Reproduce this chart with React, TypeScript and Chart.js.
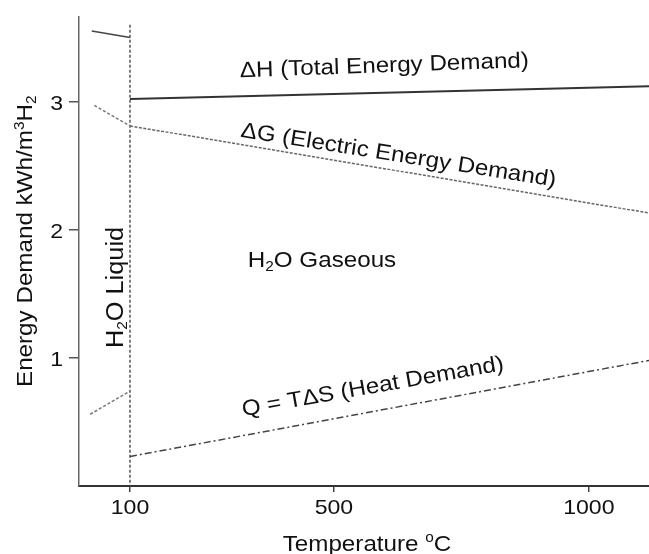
import React, { useEffect, useRef } from "react";
import { Chart, registerables } from "chart.js";

Chart.register(...registerables);

// ---- data ----
const xTickValues = [100, 500, 1000];
const yTickValues = [1, 2, 3];
const xMin = 0;
const xMax = 1118;
const yMin = 0;
const yMax = 3.66;

const dHLiquidT = [25, 100];
const dHLiquid = [3.55, 3.5];
const dHGasT = [100, 1118];
const dHGas = [3.02, 3.12];

const dGLiquidT = [30, 100];
const dGLiquid = [2.97, 2.81];
const dGGasT = [100, 1118];
const dGGas = [2.81, 2.13];

const qLiquidT = [22, 100];
const qLiquid = [0.56, 0.74];
const qGasT = [100, 1118];
const qGas = [0.23, 0.98];

const boundaryT = [100, 100];
const boundaryY = [3.6, 0];

const FONT = '"Liberation Sans", Arial, Helvetica, sans-serif';
const STRETCH = 1.1;

type Seg = { t: string; size: number; dy?: number };

function pts(xs: number[], ys: number[]) {
  return xs.map((x, i) => ({ x, y: ys[i] }));
}

function drawRich(
  ctx: CanvasRenderingContext2D,
  segs: Seg[],
  x: number,
  y: number,
  angleDeg: number,
  align: "left" | "center" | "right",
  stretch: number,
  color = "#111"
) {
  ctx.save();
  ctx.translate(x, y);
  ctx.rotate((angleDeg * Math.PI) / 180);
  ctx.scale(stretch, 1);
  ctx.fillStyle = color;
  ctx.textBaseline = "alphabetic";
  ctx.textAlign = "left";
  let total = 0;
  const widths = segs.map((s) => {
    ctx.font = `${s.size}px ${FONT}`;
    const w = ctx.measureText(s.t).width;
    total += w;
    return w;
  });
  let cx = align === "center" ? -total / 2 : align === "right" ? -total : 0;
  segs.forEach((s, i) => {
    ctx.font = `${s.size}px ${FONT}`;
    ctx.fillText(s.t, cx, s.dy || 0);
    cx += widths[i];
  });
  ctx.restore();
}

const textPlugin = {
  id: "textPlugin",
  afterDraw(chart: any) {
    const ctx: CanvasRenderingContext2D = chart.ctx;
    const xs = chart.scales.x;
    const ys = chart.scales.y;
    const X = (v: number) => xs.getPixelForValue(v);
    const Y = (v: number) => ys.getPixelForValue(v);

    // tick labels
    xs.ticks.forEach((t: any) => {
      drawRich(ctx, [{ t: String(t.value), size: 21 }], X(t.value), 514, 0, "center", STRETCH);
    });
    ys.ticks.forEach((t: any) => {
      drawRich(ctx, [{ t: String(t.value), size: 21 }], 63, Y(t.value) + 8, 0, "right", STRETCH);
    });

    // axis titles
    drawRich(
      ctx,
      [
        { t: "Temperature ", size: 22 },
        { t: "o", size: 14, dy: -9 },
        { t: "C", size: 22 },
      ],
      367,
      551,
      0,
      "center",
      STRETCH
    );
    drawRich(
      ctx,
      [
        { t: "Energy Demand kWh/m", size: 22 },
        { t: "3", size: 14, dy: -8 },
        { t: "H", size: 22 },
        { t: "2", size: 14, dy: 4 },
      ],
      32,
      387,
      -90,
      "left",
      STRETCH
    );

    // annotations
    drawRich(ctx, [{ t: "\u0394H (Total Energy Demand)", size: 22 }], X(316), Y(3.19), -2, "left", STRETCH);
    drawRich(ctx, [{ t: "\u0394G (Electric Energy Demand)", size: 22 }], X(316), Y(2.725), 9, "left", STRETCH);
    drawRich(ctx, [{ t: "Q = T\u0394S (Heat Demand)", size: 22 }], X(322), Y(0.545), -10, "left", STRETCH);
    drawRich(
      ctx,
      [
        { t: "H", size: 22 },
        { t: "2", size: 14, dy: 4 },
        { t: "O Gaseous", size: 22 },
      ],
      X(331),
      Y(1.71),
      0,
      "left",
      STRETCH
    );
    drawRich(
      ctx,
      [
        { t: "H", size: 23 },
        { t: "2", size: 14, dy: 4 },
        { t: "O Liquid", size: 23 },
      ],
      X(85.6),
      Y(1.077),
      -90,
      "left",
      STRETCH
    );
  },
};

export default function App() {
  const ref = useRef<HTMLCanvasElement | null>(null);

  useEffect(() => {
    if (!ref.current) return;
    const line = (data: any, color: string, width: number, dash: number[]) => ({
      data,
      borderColor: color,
      borderWidth: width,
      borderDash: dash,
      pointRadius: 0,
      fill: false,
      tension: 0,
    });
    const chart = new Chart(ref.current, {
      type: "line",
      data: {
        datasets: [
          line(pts(dHLiquidT, dHLiquid), "#444", 1.5, []),
          line(pts(dHGasT, dHGas), "#333", 2, []),
          line(pts(dGLiquidT, dGLiquid), "#777", 1.5, [3, 2]),
          line(pts(dGGasT, dGGas), "#666", 1.5, [3, 1.5]),
          line(pts(qLiquidT, qLiquid), "#777", 1.5, [3, 2]),
          line(pts(qGasT, qGas), "#444", 1.5, [7, 3, 2, 3]),
          line(pts(boundaryT, boundaryY), "#555", 1.5, [3, 2]),
        ] as any,
      },
      options: {
        responsive: true,
        maintainAspectRatio: false,
        animation: false,
        parsing: true,
        layout: { padding: { top: 17, left: 0, right: 0, bottom: 0 } },
        plugins: { legend: { display: false }, tooltip: { enabled: false } },
        scales: {
          x: {
            type: "linear",
            min: xMin,
            max: xMax,
            afterBuildTicks: (s: any) => {
              s.ticks = xTickValues.map((v) => ({ value: v }));
            },
            afterFit: (s: any) => {
              s.height = 68;
            },
            ticks: { display: false },
            grid: { display: true, drawOnChartArea: false, drawTicks: true, tickLength: 6, color: "#444", lineWidth: 1.5 },
            border: { display: true, color: "#333", width: 2 },
          },
          y: {
            type: "linear",
            min: yMin,
            max: yMax,
            afterBuildTicks: (s: any) => {
              s.ticks = yTickValues.map((v) => ({ value: v }));
            },
            afterFit: (s: any) => {
              s.width = 79;
            },
            ticks: { display: false },
            grid: { display: true, drawOnChartArea: false, drawTicks: true, tickLength: 10, color: "#555", lineWidth: 1.5 },
            border: { display: true, color: "#666", width: 1.5 },
          },
        },
      } as any,
      plugins: [textPlugin],
    });
    return () => chart.destroy();
  }, []);

  return (
    <div style={{ position: "absolute", left: 0, top: 0, width: 649, height: 554, background: "#fff" }}>
      <canvas ref={ref} />
    </div>
  );
}
